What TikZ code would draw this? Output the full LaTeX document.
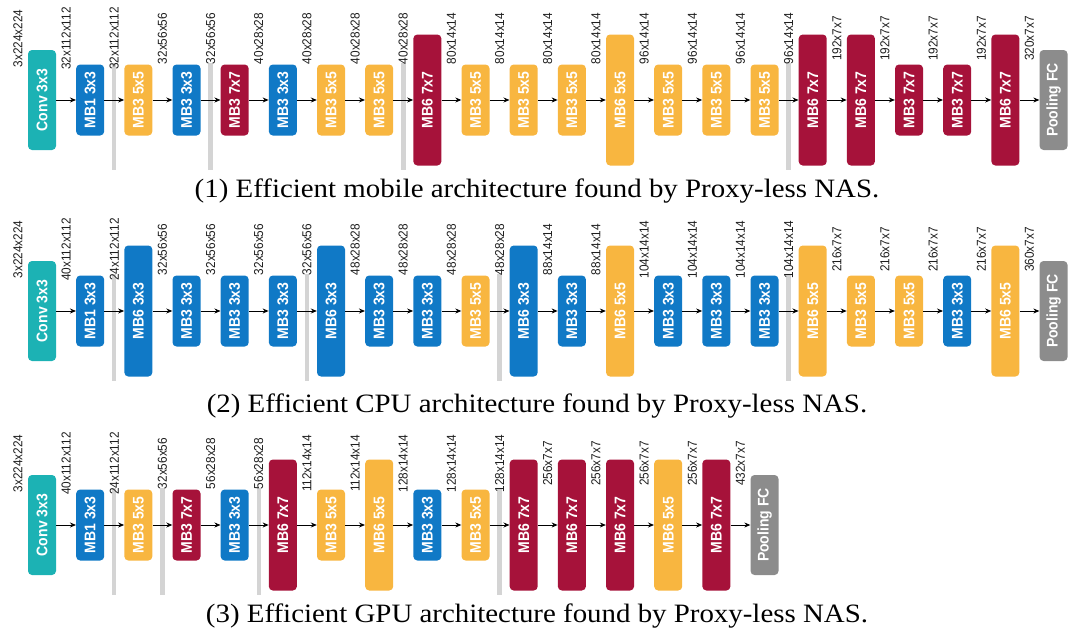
\documentclass[tikz,border=0pt]{standalone}
\usepackage{fontspec}
\setmainfont{Liberation Serif}
\setsansfont{Liberation Sans}
\usetikzlibrary{arrows.meta}
\definecolor{cteal}{RGB}{28,178,180}
\definecolor{cblue}{RGB}{16,121,198}
\definecolor{corange}{RGB}{248,182,64}
\definecolor{cred}{RGB}{166,18,58}
\definecolor{cpool}{RGB}{140,140,140}
\definecolor{cbar}{RGB}{212,212,212}
\definecolor{ctxt}{RGB}{30,30,30}
\newcommand\tallify[1]{\scalebox{1}[1.1]{#1}}
\tikzset{
  blk/.style={rotate=90, rounded corners=4pt, inner sep=0pt, minimum height=28pt,
    text=white, font=\sffamily\bfseries\fontsize{14}{14}\selectfont},
  hsmall/.style={minimum width=71pt},
  hmid/.style={minimum width=100pt},
  htall/.style={minimum width=131pt},
  kthree/.style={fill=cblue},
  kfive/.style={fill=corange},
  kseven/.style={fill=cred},
  kconv/.style={fill=cteal},
  kpool/.style={fill=cpool},
  lbl/.style={rotate=90, inner sep=0pt, text=ctxt, font=\sffamily\fontsize{11.8}{12}\selectfont},
  sepbar/.style={fill=cbar, draw=none, inner sep=0pt, minimum width=4.5pt, minimum height=107pt},
  arr/.style={-{Stealth[length=6pt,width=5pt]}, line width=0.9pt, black},
  ttl/.style={anchor=base, inner sep=0pt, font=\fontsize{26.5}{28}\selectfont}
}
\newcommand\archrow[5]{%
  \foreach \bb in {#4} {
    \node[sepbar] (#1g\bb) at ({42+\bb*48.17-24.1},{#2+16.5}) {};
  }
  \foreach \ii/\hgt/\col/\txt/\lab in {#3} {
    \node[lbl] (#1l\ii) at ({42+\ii*48.17-24.1},{#2-61.5}) {\tallify{\lab}};
    \node[blk,\hgt,\col] (#1b\ii) at ({42+\ii*48.17},#2) {\tallify{\txt}};
  }
  \foreach \ii in {0,...,#5} {
    \pgfmathtruncatemacro\jj{\ii+1}
    \draw[arr] (#1b\ii) -- (#1b\jj);
  }
}
\begin{document}
\begin{tikzpicture}[x=1pt,y=-1pt]
\useasboundingbox (0,0) rectangle (1080,637);
\archrow{ra}{100}{%
0/hmid/kconv/Conv 3x3/3x224x224,
1/hsmall/kthree/MB1 3x3/32x112x112,
2/hsmall/kfive/MB3 5x5/32x112x112,
3/hsmall/kthree/MB3 3x3/32x56x56,
4/hsmall/kseven/MB3 7x7/32x56x56,
5/hsmall/kthree/MB3 3x3/40x28x28,
6/hsmall/kfive/MB3 5x5/40x28x28,
7/hsmall/kfive/MB3 5x5/40x28x28,
8/htall/kseven/MB6 7x7/40x28x28,
9/hsmall/kfive/MB3 5x5/80x14x14,
10/hsmall/kfive/MB3 5x5/80x14x14,
11/hsmall/kfive/MB3 5x5/80x14x14,
12/htall/kfive/MB6 5x5/80x14x14,
13/hsmall/kfive/MB3 5x5/96x14x14,
14/hsmall/kfive/MB3 5x5/96x14x14,
15/hsmall/kfive/MB3 5x5/96x14x14,
16/htall/kseven/MB6 7x7/96x14x14,
17/htall/kseven/MB6 7x7/192x7x7,
18/hsmall/kseven/MB3 7x7/192x7x7,
19/hsmall/kseven/MB3 7x7/192x7x7,
20/htall/kseven/MB6 7x7/192x7x7,
21/hmid/kpool/Pooling FC/320x7x7}{2,4,8,16}{20}
\archrow{rb}{311}{%
0/hmid/kconv/Conv 3x3/3x224x224,
1/hsmall/kthree/MB1 3x3/40x112x112,
2/htall/kthree/MB6 3x3/24x112x112,
3/hsmall/kthree/MB3 3x3/32x56x56,
4/hsmall/kthree/MB3 3x3/32x56x56,
5/hsmall/kthree/MB3 3x3/32x56x56,
6/htall/kthree/MB6 3x3/32x56x56,
7/hsmall/kthree/MB3 3x3/48x28x28,
8/hsmall/kthree/MB3 3x3/48x28x28,
9/hsmall/kfive/MB3 5x5/48x28x28,
10/htall/kthree/MB6 3x3/48x28x28,
11/hsmall/kthree/MB3 3x3/88x14x14,
12/htall/kfive/MB6 5x5/88x14x14,
13/hsmall/kthree/MB3 3x3/104x14x14,
14/hsmall/kthree/MB3 3x3/104x14x14,
15/hsmall/kthree/MB3 3x3/104x14x14,
16/htall/kfive/MB6 5x5/104x14x14,
17/hsmall/kfive/MB3 5x5/216x7x7,
18/hsmall/kfive/MB3 5x5/216x7x7,
19/hsmall/kthree/MB3 3x3/216x7x7,
20/htall/kfive/MB6 5x5/216x7x7,
21/hmid/kpool/Pooling FC/360x7x7}{2,6,10,16}{20}
\archrow{rc}{525}{%
0/hmid/kconv/Conv 3x3/3x224x224,
1/hsmall/kthree/MB1 3x3/40x112x112,
2/hsmall/kfive/MB3 5x5/24x112x112,
3/hsmall/kseven/MB3 7x7/32x56x56,
4/hsmall/kthree/MB3 3x3/56x28x28,
5/htall/kseven/MB6 7x7/56x28x28,
6/hsmall/kfive/MB3 5x5/112x14x14,
7/htall/kfive/MB6 5x5/112x14x14,
8/hsmall/kthree/MB3 3x3/128x14x14,
9/hsmall/kfive/MB3 5x5/128x14x14,
10/htall/kseven/MB6 7x7/128x14x14,
11/htall/kseven/MB6 7x7/256x7x7,
12/htall/kseven/MB6 7x7/256x7x7,
13/htall/kfive/MB6 5x5/256x7x7,
14/htall/kseven/MB6 7x7/256x7x7,
15/hmid/kpool/Pooling FC/432x7x7}{2,3,5,10}{14}
\node[ttl] (ta) at (537,197) {\scalebox{1.09}[1]{(1) Efficient mobile architecture found by Proxy-less NAS.}};
\node[ttl] (tb) at (537,412) {\scalebox{1.09}[1]{(2) Efficient CPU architecture found by Proxy-less NAS.}};
\node[ttl] (tc) at (537,622) {\scalebox{1.09}[1]{(3) Efficient GPU architecture found by Proxy-less NAS.}};
\end{tikzpicture}
\end{document}
